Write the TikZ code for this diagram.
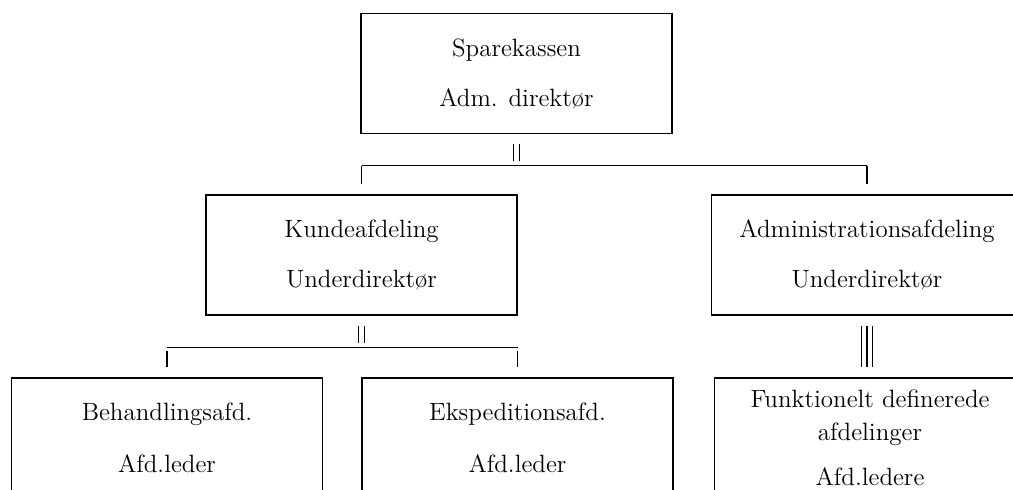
\documentclass[tikz,border=0pt]{standalone}
\usepackage{tikz}
\usetikzlibrary{calc}

\tikzset{
  unitbox/.style={draw, line width=0.8pt, minimum width=155.5pt, minimum height=60pt,
    inner sep=0pt, align=center, font=\fontsize{12.5}{15}\selectfont},
  link/.style={line width=0.6pt},
  bar/.style={line width=0.8pt},
}

\begin{document}
\begin{tikzpicture}[x=0.5pt, y=-0.5pt]
	\clip (0,0) rectangle (1013,490);
	% boxes
	\node[unitbox] (spare)  at (516.5,73.5) {Sparekassen\\[10pt]Adm. direktør};
	\node[unitbox] (kunde)  at (361.5,255)  {Kundeafdeling\\[10pt]Underdirektør};
	\node[unitbox] (admin)  at (867,255)    {Administrationsafdeling\\[10pt]Underdirektør};
	\node[unitbox] (behand) at (167,438)    {Behandlingsafd.\\[11pt]Afd.leder};
	\node[unitbox] (eksped) at (517.5,438)  {Ekspeditionsafd.\\[11pt]Afd.leder};
	\node[unitbox] (funk)   at (870,438)    {Funktionelt definerede\\[1.5pt]afdelinger\\[7.5pt]Afd.ledere};

	% top level
	\foreach \dx in {-3,3}
		\draw[bar] ($(spare.south)+(\dx,10)$) -- ($(spare.south)+(\dx,27)$);
	\coordinate (bustop) at ($(spare.south)+(0,31)$);
	\draw[link] (kunde.north |- bustop) -- (admin.north |- bustop);
	\draw[link] ($(kunde.north |- bustop)+(0,1)$) -- ($(kunde.north)+(0,-10)$);
	\draw[link] ($(admin.north |- bustop)+(0,1)$) -- ($(admin.north)+(0,-10)$);

	% kundeafdeling
	\foreach \dx in {-3,3}
		\draw[bar] ($(kunde.south)+(\dx,10)$) -- ($(kunde.south)+(\dx,27)$);
	\coordinate (buskunde) at ($(kunde.south)+(0,32)$);
	\draw[link] (behand.north |- buskunde) -- (eksped.north |- buskunde);
	\draw[link] ($(behand.north |- buskunde)+(0,3)$) -- ($(behand.north)+(0,-10)$);
	\draw[link] ($(eksped.north |- buskunde)+(0,3)$) -- ($(eksped.north)+(0,-10)$);

	% administrationsafdeling
	\foreach \dx in {-5.5,0,5.5}
		\draw[bar] ($(admin.south)+(\dx,10)$) -- ($(admin.south |- funk.north)+(\dx,-10)$);
\end{tikzpicture}
\end{document}
